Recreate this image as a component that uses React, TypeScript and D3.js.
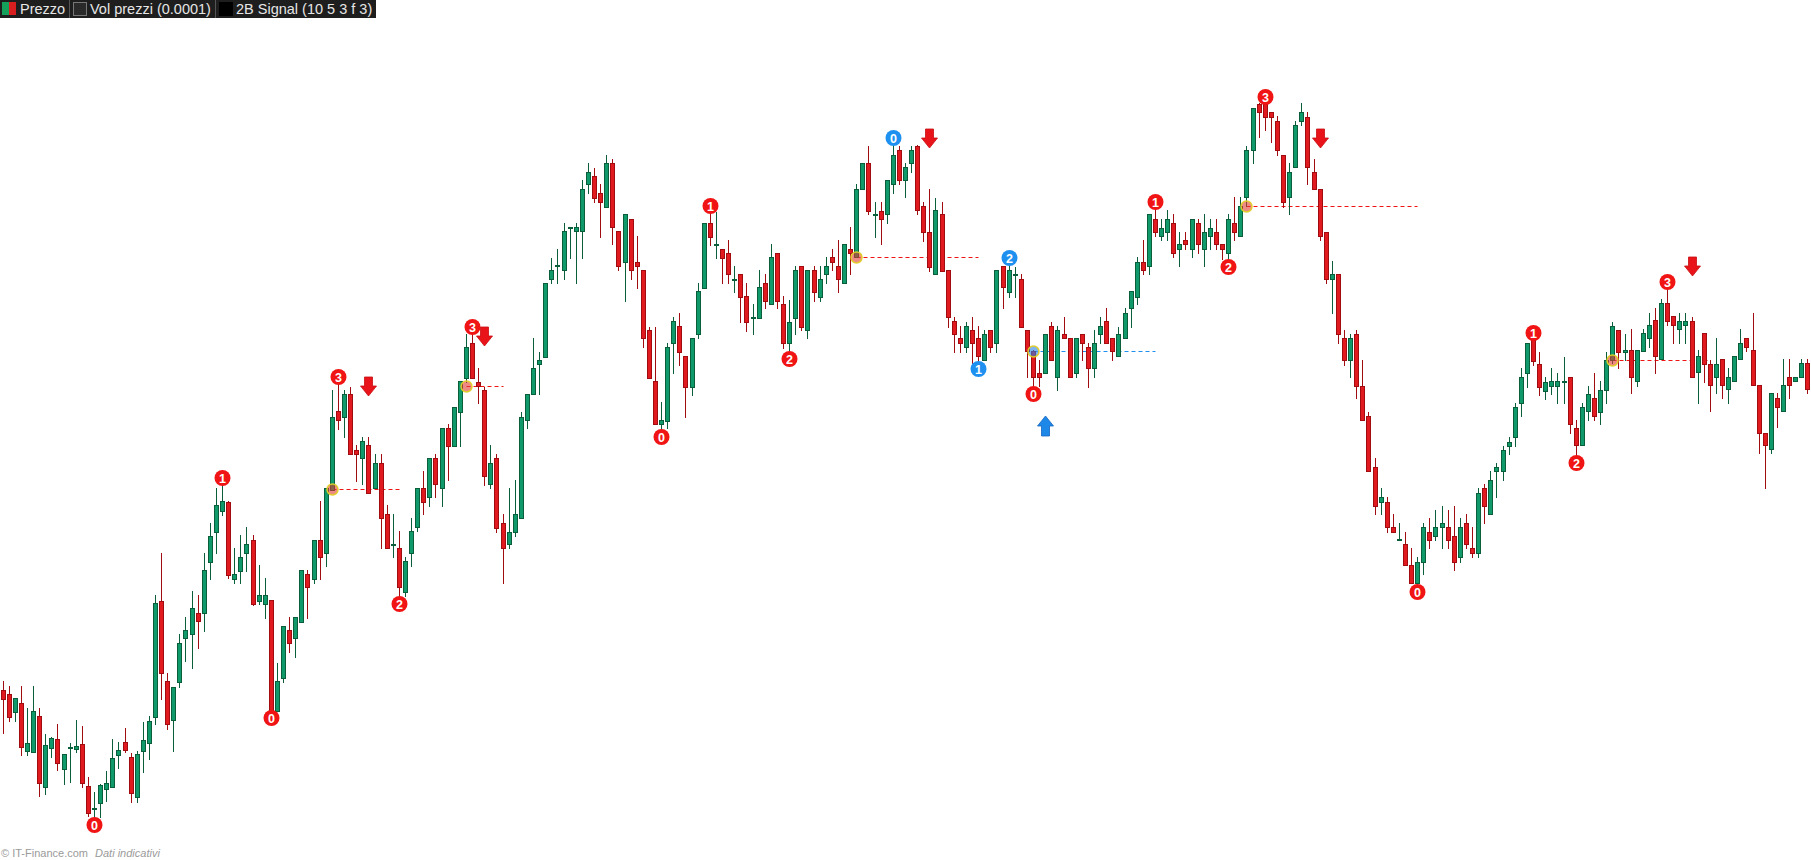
import { useMemo } from "react";
import * as d3 from "d3";

const W = 1811;
const H = 860;

// OHLC (index points), one entry per session
const opens = [
  170, 166, 148, 157, 109, 108, 144, 73, 112, 121, 91, 112, 111, 116, 74, 51, 57, 71, 73, 105,
  118, 103, 63, 109, 117, 143, 259, 179, 140, 178, 222, 226, 247, 247, 298, 328, 349, 358, 281, 289,
  307, 320, 259, 256, 260, 149, 182, 230, 222, 238, 286, 281, 320, 307, 370, 449, 443, 466, 410, 402,
  415, 372, 397, 346, 315, 312, 268, 307, 333, 372, 363, 402, 372, 432, 414, 448, 482, 517, 478, 470,
  376, 402, 337, 316, 328, 342, 440, 466, 496, 503, 581, 594, 590, 632, 629, 629, 676, 684, 667, 653,
  697, 629, 598, 641, 598, 590, 530, 479, 436, 439, 517, 534, 504, 473, 526, 572, 637, 615, 611, 607,
  580, 586, 564, 542, 542, 577, 556, 607, 556, 517, 542, 594, 530, 590, 563, 586, 603, 594, 577, 611,
  603, 671, 697, 645, 649, 646, 676, 710, 680, 697, 714, 654, 628, 586, 646, 590, 539, 522, 513, 530,
  522, 500, 530, 517, 594, 568, 585, 581, 530, 509, 487, 487, 534, 483, 526, 522, 487, 526, 513, 492,
  526, 539, 522, 504, 522, 552, 563, 598, 594, 641, 624, 628, 637, 611, 620, 611, 637, 611, 624, 628,
  616, 607, 637, 624, 663, 710, 756, 756, 748, 739, 705, 663, 693, 739, 743, 688, 671, 628, 581, 586,
  522, 500, 526, 474, 444, 393, 358, 358, 333, 320, 316, 295, 277, 298, 328, 324, 333, 333, 324, 303,
  337, 312, 307, 372, 346, 389, 389, 414, 423, 457, 487, 520, 496, 469, 474, 474, 478, 483, 432, 415,
  449, 462, 448, 470, 500, 530, 508, 510, 479, 509, 522, 540, 501, 557, 544, 531, 535, 539, 488, 527,
  496, 483, 501, 471, 479, 501, 522, 510, 475, 427, 411, 462, 449, 483, 479, 483, 497,
];
const highs = [
  179, 174, 162, 174, 152, 174, 152, 126, 123, 136, 106, 117, 140, 134, 83, 68, 76, 89, 121, 118,
  132, 107, 109, 138, 144, 265, 307, 187, 173, 226, 243, 269, 265, 307, 337, 372, 375, 359, 312, 325,
  333, 325, 295, 282, 260, 197, 234, 243, 243, 290, 290, 320, 359, 372, 470, 476, 470, 473, 415, 423,
  423, 406, 406, 355, 346, 329, 303, 342, 372, 389, 402, 406, 432, 436, 453, 479, 526, 526, 492, 473,
  415, 406, 346, 372, 380, 448, 466, 522, 508, 577, 602, 611, 637, 633, 637, 680, 697, 692, 676, 705,
  701, 629, 646, 641, 624, 590, 533, 533, 458, 517, 543, 547, 504, 522, 577, 637, 647, 648, 611, 620,
  594, 586, 577, 556, 590, 586, 616, 607, 564, 560, 594, 594, 590, 594, 594, 603, 611, 620, 616, 633,
  676, 697, 714, 658, 658, 680, 715, 714, 697, 714, 715, 658, 671, 662, 658, 590, 543, 534, 538, 543,
  534, 530, 530, 590, 594, 595, 593, 586, 530, 510, 500, 526, 538, 534, 543, 522, 522, 526, 517, 530,
  543, 552, 522, 533, 552, 569, 603, 620, 646, 651, 641, 650, 646, 628, 628, 641, 641, 646, 641, 641,
  616, 646, 663, 663, 714, 752, 757, 756, 748, 744, 705, 697, 739, 757, 748, 701, 671, 628, 599, 586,
  530, 526, 530, 500, 448, 402, 372, 363, 346, 337, 328, 312, 303, 337, 342, 350, 354, 350, 354, 342,
  346, 333, 372, 376, 389, 397, 414, 423, 457, 492, 517, 520, 508, 483, 492, 487, 503, 483, 440, 457,
  474, 487, 479, 508, 538, 530, 526, 531, 510, 531, 547, 552, 561, 571, 544, 547, 547, 543, 510, 527,
  500, 522, 501, 492, 504, 531, 522, 547, 475, 427, 467, 467, 501, 501, 483, 501, 501,
];
const lows = [
  127, 139, 139, 105, 105, 108, 64, 66, 103, 90, 76, 78, 108, 73, 44, 42, 43, 59, 73, 92,
  108, 58, 58, 88, 101, 136, 161, 131, 109, 173, 199, 192, 212, 229, 281, 307, 345, 282, 277, 277,
  289, 255, 256, 242, 149, 149, 178, 208, 203, 238, 242, 277, 281, 294, 370, 431, 423, 406, 379, 376,
  367, 372, 312, 312, 303, 263, 264, 294, 329, 346, 354, 363, 354, 380, 414, 414, 478, 482, 457, 375,
  372, 328, 277, 312, 324, 342, 432, 466, 466, 503, 577, 577, 581, 602, 577, 602, 667, 658, 623, 653,
  616, 590, 559, 581, 572, 513, 482, 436, 430, 432, 487, 495, 443, 465, 522, 572, 615, 602, 577, 577,
  568, 538, 529, 526, 542, 552, 556, 552, 512, 508, 526, 530, 522, 559, 559, 577, 590, 568, 577, 586,
  603, 671, 646, 623, 616, 637, 667, 676, 663, 688, 646, 619, 589, 586, 589, 533, 508, 508, 508, 497,
  498, 500, 508, 508, 552, 563, 563, 533, 483, 473, 474, 487, 500, 470, 522, 483, 483, 500, 473, 483,
  517, 517, 500, 504, 522, 533, 556, 586, 586, 624, 620, 620, 603, 594, 611, 603, 607, 594, 611, 611,
  601, 600, 620, 624, 654, 697, 723, 730, 718, 705, 653, 646, 693, 735, 676, 671, 620, 577, 547, 517,
  495, 483, 462, 440, 389, 346, 346, 328, 328, 320, 295, 277, 275, 286, 312, 320, 312, 312, 290, 298,
  312, 303, 303, 337, 346, 363, 380, 406, 414, 444, 473, 495, 465, 461, 466, 457, 457, 427, 404, 415,
  440, 440, 436, 457, 497, 492, 500, 467, 474, 509, 513, 487, 501, 535, 517, 517, 517, 483, 457, 478,
  449, 467, 462, 457, 479, 501, 509, 475, 407, 372, 407, 433, 449, 462, 479, 483, 467,
];
const closes = [
  161, 143, 162, 113, 117, 149, 77, 115, 122, 97, 106, 113, 114, 77, 47, 52, 75, 77, 102, 110,
  110, 67, 106, 120, 139, 257, 187, 136, 173, 217, 230, 252, 239, 290, 324, 355, 359, 285, 286, 303,
  316, 256, 265, 265, 149, 179, 234, 217, 243, 290, 273, 320, 303, 372, 443, 440, 466, 406, 406, 419,
  367, 397, 342, 312, 316, 273, 299, 329, 372, 358, 402, 376, 432, 414, 453, 479, 513, 482, 474, 384,
  397, 332, 312, 328, 346, 443, 466, 492, 500, 577, 590, 595, 629, 633, 633, 671, 688, 662, 658, 697,
  633, 594, 646, 590, 594, 522, 482, 436, 440, 513, 539, 508, 473, 522, 569, 637, 623, 616, 602, 586,
  581, 563, 538, 543, 573, 559, 603, 559, 517, 538, 590, 533, 590, 568, 581, 594, 598, 581, 616, 607,
  671, 697, 649, 646, 641, 680, 705, 680, 693, 710, 650, 628, 593, 650, 589, 543, 526, 517, 534, 517,
  504, 526, 513, 590, 573, 590, 586, 533, 509, 483, 483, 526, 500, 530, 522, 483, 522, 517, 492, 517,
  534, 517, 509, 526, 547, 569, 598, 590, 646, 628, 632, 641, 607, 616, 616, 641, 616, 628, 632, 616,
  611, 641, 628, 654, 710, 752, 748, 743, 743, 710, 658, 688, 735, 748, 693, 671, 624, 581, 586, 526,
  500, 522, 474, 440, 389, 354, 363, 333, 328, 321, 295, 277, 298, 333, 320, 333, 337, 320, 298, 333,
  316, 307, 367, 354, 380, 393, 410, 418, 453, 483, 517, 499, 473, 478, 479, 479, 479, 436, 415, 453,
  466, 444, 470, 500, 534, 508, 510, 483, 510, 527, 535, 504, 557, 539, 535, 539, 539, 483, 504, 496,
  475, 496, 475, 483, 504, 517, 513, 475, 427, 415, 467, 453, 475, 475, 483, 497, 471,
];

// 2B Signal pivots
const pivotIdx = [15, 36, 44, 55, 65, 77, 108, 116, 129, 146, 160, 165, 169, 189, 201, 207, 232, 251, 258, 273];
const pivotText = ["0", "1", "0", "3", "2", "3", "0", "1", "2", "0", "1", "2", "0", "1", "2", "3", "0", "1", "2", "3"];
const pivotSide = ["low", "high", "low", "high", "low", "high", "low", "high", "low", "high", "low", "high", "low", "high", "low", "high", "low", "high", "low", "high"];
const pivotTone = ["sell", "sell", "sell", "sell", "sell", "sell", "sell", "sell", "sell", "buy", "buy", "buy", "sell", "sell", "sell", "sell", "sell", "sell", "sell", "sell"];

// entry arrows
const arrowIdx = [60, 79, 152, 171, 216, 277];
const arrowTone = ["sell", "sell", "sell", "buy", "sell", "sell"];

// breakout levels (dashed)
const breakStart = [54, 76, 140, 169, 204, 264];
const breakEnd = [65, 82, 160, 189, 232, 280];
const breakLevel = [371, 474, 603, 509, 654, 500];
const breakTone = ["sell", "sell", "sell", "buy", "sell", "sell"];

const legendItems = ["Prezzo", "Vol prezzi (0.0001)", "2B Signal (10 5 3 f 3)"];

const UP_FILL = "#10996a";
const UP_LINE = "#0b5e3a";
const DN_FILL = "#e01a1e";
const DN_LINE = "#a10c10";
const SELL = "#f01414";
const BUY = "#1e90f0";
const FONT = "'Liberation Sans', Arial, sans-serif";

export default function App() {
  const n = opens.length;

  const x = useMemo(
    () => d3.scaleBand<number>().domain(d3.range(n)).range([0, W]),
    [n]
  );
  const y = useMemo(
    () =>
      d3
        .scaleLinear()
        .domain([d3.min(lows) as number, d3.max(highs) as number])
        .range([818, 103]),
    []
  );

  const col = (i: number) => Math.round(x(i)! + x.bandwidth() / 2 - 0.5);

  const candles = d3.range(n).map((i) => {
    const o = opens[i];
    const c = closes[i];
    const hi = Math.max(highs[i], o, c);
    const lo = Math.min(lows[i], o, c);
    const up = c >= o;
    const cx = col(i);
    const top = Math.round(y(Math.max(o, c)));
    const bot = Math.round(y(Math.min(o, c)));
    return (
      <g key={i}>
        <line
          x1={cx + 0.5}
          x2={cx + 0.5}
          y1={Math.round(y(hi))}
          y2={Math.round(y(lo)) + 1}
          stroke={up ? UP_LINE : DN_LINE}
          strokeWidth={1}
        />
        {bot - top < 1 ? (
          <line
            x1={cx - 2}
            x2={cx + 3}
            y1={top + 0.5}
            y2={top + 0.5}
            stroke={up ? UP_LINE : DN_LINE}
            strokeWidth={1}
          />
        ) : (
          <rect
            x={cx - 1.5}
            y={top + 0.5}
            width={4}
            height={bot - top}
            fill={up ? UP_FILL : DN_FILL}
            stroke={up ? UP_LINE : DN_LINE}
            strokeWidth={1}
          />
        )}
      </g>
    );
  });

  const levelY = (k: number) => Math.round(y(breakLevel[k])) + 0.5;

  const dashes = breakStart.map((s, k) => (
    <line
      key={"d" + k}
      x1={col(s) + 0.5}
      x2={col(breakEnd[k]) + 0.5}
      y1={levelY(k)}
      y2={levelY(k)}
      stroke={breakTone[k] === "buy" ? BUY : SELL}
      strokeWidth={1}
      strokeDasharray="4 3"
    />
  ));

  const dots = breakStart.map((s, k) => (
    <circle
      key={"c" + k}
      cx={col(s) + 0.5}
      cy={levelY(k)}
      r={5.5}
      fill={breakTone[k] === "buy" ? "rgba(40,130,230,0.6)" : "rgba(225,60,50,0.6)"}
      stroke="rgba(225,205,40,0.95)"
      strokeWidth={1.5}
    />
  ));

  const pivots = pivotIdx.map((i, k) => {
    const cx = col(i) + 0.5;
    const cy = pivotSide[k] === "high" ? y(highs[i]) - 7 : y(lows[i]) + 7;
    return (
      <g key={"p" + k}>
        <circle cx={cx} cy={cy} r={8} fill={pivotTone[k] === "buy" ? BUY : SELL} />
        <text
          x={cx}
          y={cy + 4.5}
          textAnchor="middle"
          fontFamily={FONT}
          fontWeight="bold"
          fontSize={12.5}
          fill="#fff"
        >
          {pivotText[k]}
        </text>
      </g>
    );
  });

  const arrows = arrowIdx.map((i, k) => {
    const cx = col(i) + 0.5;
    if (arrowTone[k] === "sell") {
      const by = Math.round(y(highs[i])) - 41;
      const d = `M${cx - 4},${by - 19} L${cx + 4},${by - 19} L${cx + 4},${by - 10} L${cx + 8},${by - 10} L${cx},${by} L${cx - 8},${by - 10} L${cx - 4},${by - 10} Z`;
      return <path key={"a" + k} d={d} fill="#e8141a" stroke="#c80e12" strokeWidth={0.8} />;
    }
    const ty = Math.round(y(lows[i])) + 43;
    const d = `M${cx},${ty} L${cx + 8},${ty + 10} L${cx + 4},${ty + 10} L${cx + 4},${ty + 20} L${cx - 4},${ty + 20} L${cx - 4},${ty + 10} L${cx - 8},${ty + 10} Z`;
    return <path key={"a" + k} d={d} fill="#1e88e8" stroke="#1565c0" strokeWidth={0.8} />;
  });

  return (
    <div
      style={{
        position: "fixed",
        left: 0,
        top: 0,
        width: W,
        height: H,
        background: "#fff",
        overflow: "hidden",
      }}
    >
      <svg width={W} height={H} style={{ display: "block" }}>
        <rect width={W} height={H} fill="#fff" />
        {dashes}
        {candles}
        {dots}
        {pivots}
        {arrows}

        {/* legend bar */}
        <g fontFamily={FONT} fontSize={14.5}>
          <rect x={0} y={0} width={376} height={18} fill="#1e1e1e" />
          <rect x={2} y={2} width={7} height={13} fill="#14a05a" />
          <rect x={9} y={2} width={7} height={13} fill="#d81e1e" />
          <text x={20} y={14} fill="#e6e6e6">{legendItems[0]}</text>
          <line x1={69.5} x2={69.5} y1={0} y2={18} stroke="#555" />
          <rect x={73.5} y={2.5} width={13} height={13} fill="#2a2a2a" stroke="#777" />
          <text x={90} y={14} fill="#e6e6e6">{legendItems[1]}</text>
          <line x1={215.5} x2={215.5} y1={0} y2={18} stroke="#555" />
          <rect x={219} y={2} width={14} height={14} fill="#000" />
          <text x={236} y={14} fill="#e6e6e6">{legendItems[2]}</text>
        </g>

        <text x={1} y={857} fontFamily={FONT} fontSize={11} fill="#9a9a9a">
          © IT-Finance.com{" "}
          <tspan fontStyle="italic" dx={4}>Dati indicativi</tspan>
        </text>
      </svg>
    </div>
  );
}
